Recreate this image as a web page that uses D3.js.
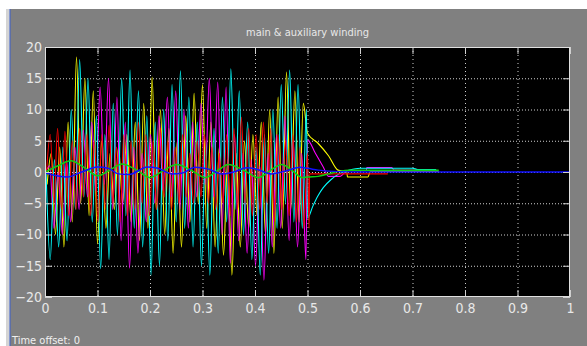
<!DOCTYPE html>
<html>
<head>
<meta charset="utf-8">
<script src="https://cdn.jsdelivr.net/npm/d3@7/dist/d3.min.js"></script>
<style>
  html, body { margin: 0; padding: 0; background: #fff; }
  svg { display: block; }
</style>
</head>
<body>
<div id="scope"></div>
<script>
// axis ticks
const xTicks = [0, 0.1, 0.2, 0.3, 0.4, 0.5, 0.6, 0.7, 0.8, 0.9, 1];
const xTickLabels = ["0", "0.1", "0.2", "0.3", "0.4", "0.5", "0.6", "0.7", "0.8", "0.9", "1"];
const yTicks = [-20, -15, -10, -5, 0, 5, 10, 15, 20];

// fast signals: alternating extremes, one every half cycle
const halfCycle = 0.008;
const redHalfCycle = 0.007;

const yellowStart = 0.004;
const yellowVals = [-2, 3, -10, 4, -12, 8, -8, 18.4, -5, 15, -7, 13, -11.5, 5, -9, 3, -6, 4, -5, 6,
  -8, 8, -11, 11, -9, 15.2, -6, 10, -10, 7, -13, 5, -12, 9, -8, 12.6, -5, 14, -9, 8,
  -12, 4, -13.3, 2, -16.5, 3, -12, 5, -9, 6, -7, 8, -10, 10, -13, 12, -9, 16, -6, 13,
  -8, 11];
const yellowTail = [[0.5, 6.2], [0.52, 4.6], [0.54, 2.6], [0.558, 0.3], [0.575, 0], [0.576, -0.8],
  [0.615, -0.8], [0.62, 0.1], [0.75, 0.1]];

const magentaStart = 0.001;
const magentaVals = [0, 1, -9, 0, -10, 2, -8, 4, -6, 6.7, -4, 8, -3, 13.6, -2, 15, -6, 12, -11, 8,
  -15.4, 4, -13, 3, -8, 6, -5, 9, -3, 12, -4, 13, -6, 10, -9, 8, -4, 11, -2, 15,
  -4, 14.4, -10, 13.6, -14.6, 6, -11, 3, -13, 2, -15, 1, -17.3, 3, -12, 6, -9, 9, -11, 5,
  -12, 3, -14];
const magentaTail = [[0.5, 5.1], [0.515, 3.0], [0.53, 0.8], [0.54, -0.7], [0.562, -0.7], [0.575, 0.2],
  [0.612, 0.2], [0.613, 0.7], [0.66, 0.7], [0.665, 0.3], [0.69, 0.3], [0.745, 0.3]];

const cyanStart = 0.002;
const cyanVals = [0, -14, 2, -12, 4, -11, 10, -6, 18, -4, 15, -8, 9, -15.5, 6, -14, 11, -10, 15, -7,
  16.3, -9, 13, -12, 9, -16.5, 8, -15, 10, -11, 14, -8, 16.2, -9, 12, -12, 8, -15, 5, -16.5,
  7, -13, 12, -8, 16.5, -6, 13, -10, 8, -14, 4, -16.5, 6, -13, 10, -9, 14, -5, 16.3, -8,
  14, -9, 10];
const cyanTail = [[0.5, -7.4], [0.51, -5.5], [0.52, -3.8], [0.53, -2.5], [0.545, -1.2], [0.56, -0.3],
  [0.58, 0.3], [0.6, 0.6], [0.7, 0.6], [0.71, 0.4], [0.745, 0.4]];

const redStart = 0.003;
const redVals = [0, 6, -5, 7, -6, 6.5, -7, 5, -6, 7, -4, 6, -7, 5, -8, 6, -6, 7.5, -5, 4,
  -8, 6, -7, 5, -6, 8, -5, 6, -7, 5, -6, 7, -4, 5, -6, 4, -5, 6, -4, 3,
  -5, 5, -4, 6, -5, 4, -6, 3, -5, 6, -7, 7, -6, 8.8, -5, 7, -7, 6, -6, 8,
  -5, 7, -8, 6, -6, 5, -7, 6, -8, 4, -9, 3];
const redTail = [[0.503, -9], [0.504, -0.3], [0.653, -0.3]];

// slow signals: read point by point
const greenPts = [[0, 0], [0.025, 1], [0.049, 1.8], [0.075, 0.7], [0.1, -0.6], [0.125, 0.4], [0.147, 1.3],
  [0.175, 0.3], [0.2, -0.9], [0.225, 0.2], [0.251, 1.2], [0.28, 0.2], [0.305, -0.9], [0.33, 0.3],
  [0.349, 1.2], [0.38, 0.2], [0.406, -0.9], [0.43, 0.3], [0.451, 1.2], [0.47, 0.3], [0.49, -0.9],
  [0.5, -0.8], [0.52, -0.7], [0.54, -0.3], [0.56, 0.1], [0.58, 0.3], [0.75, 0.3]];
const bluePts = [[0, -0.1], [0.042, -0.8], [0.07, 0], [0.1, 0.8], [0.12, 0.6], [0.14, -0.3], [0.16, -0.4],
  [0.195, 0.8], [0.215, 0.6], [0.241, -0.3], [0.26, -0.2], [0.286, 0.75], [0.31, 0.5], [0.337, -0.3],
  [0.36, 0], [0.384, 0.7], [0.405, 0.4], [0.43, -0.3], [0.46, 0.2], [0.486, 0.75], [0.5, 0.6],
  [0.52, 0.3], [0.55, 0.1], [0.6, 0], [1, 0]];

function withTimes(start, step, vals, tail) {
  return vals.map((v, i) => [start + i * step, v]).concat(tail);
}

const signals = [
  {color: "#ffff00", pts: withTimes(yellowStart, halfCycle, yellowVals, yellowTail)},
  {color: "#ff00ff", pts: withTimes(magentaStart, halfCycle, magentaVals, magentaTail)},
  {color: "#00ffff", pts: withTimes(cyanStart, halfCycle, cyanVals, cyanTail)},
  {color: "#ff0000", pts: withTimes(redStart, redHalfCycle, redVals, redTail)},
  {color: "#10d010", pts: greenPts, smooth: true},
  {color: "#1010ff", pts: bluePts, smooth: true}
];

const FONT = '"DejaVu Sans Condensed", "Liberation Sans Narrow", "Arial Narrow", sans-serif';
const W = 587, H = 346;
const plot = {left: 45, right: 570, top: 47, bottom: 297};

const svg = d3.select("#scope").append("svg")
  .attr("width", W)
  .attr("height", H)
  .attr("font-family", FONT);

// window frame
svg.append("rect").attr("width", W).attr("height", H).attr("fill", "#ffffff");
svg.append("rect").attr("x", 6).attr("y", 9).attr("width", W - 6).attr("height", H - 9).attr("fill", "#d4d4d4");
svg.append("rect").attr("x", 10).attr("y", 9).attr("width", W - 10).attr("height", H - 9).attr("fill", "#808080");
svg.append("line").attr("x1", 10).attr("x2", 10).attr("y1", 9).attr("y2", H)
  .attr("stroke", "#3a5fcd").attr("stroke-width", 1);

const x = d3.scaleLinear().domain([0, 1]).range([plot.left, plot.right]);
const y = d3.scaleLinear().domain([-20, 20]).range([plot.bottom, plot.top]);

svg.append("rect")
  .attr("x", plot.left).attr("y", plot.top)
  .attr("width", plot.right - plot.left).attr("height", plot.bottom - plot.top)
  .attr("fill", "#000000");

// dotted grid
svg.append("g").selectAll("line").data(xTicks.slice(1, -1)).enter().append("line")
  .attr("x1", d => x(d) + 0.5).attr("x2", d => x(d) + 0.5)
  .attr("y1", plot.top).attr("y2", plot.bottom)
  .attr("stroke", "#cfcfcf").attr("stroke-dasharray", "1,3");
svg.append("g").selectAll("line").data(yTicks.slice(1, -1)).enter().append("line")
  .attr("x1", plot.left).attr("x2", plot.right)
  .attr("y1", d => y(d) + 0.5).attr("y2", d => y(d) + 0.5)
  .attr("stroke", "#cfcfcf").attr("stroke-dasharray", "1,2");

// signals
svg.append("clipPath").attr("id", "clip").append("rect")
  .attr("x", plot.left).attr("y", plot.top)
  .attr("width", plot.right - plot.left).attr("height", plot.bottom - plot.top);

const line = d3.line().x(d => x(d[0])).y(d => y(d[1])).curve(d3.curveMonotoneX);

svg.append("g").attr("clip-path", "url(#clip)")
  .selectAll("path").data(signals).enter().append("path")
  .attr("d", d => line(d.pts))
  .attr("fill", "none")
  .attr("stroke", d => d.color)
  .attr("stroke-width", d => d.smooth ? 1.5 : 1.1);

// axes, ticks pointing into the plot
function styleAxis(g) {
  g.attr("font-family", FONT);
  g.select(".domain").remove();
  g.selectAll(".tick line").attr("stroke", "#d0d0d0");
  g.selectAll(".tick text").attr("fill", "#e8e8e8").attr("font-size", 14);
}

svg.append("g")
  .attr("transform", `translate(0,${plot.bottom})`)
  .call(d3.axisBottom(x).tickValues(xTicks).tickFormat((d, i) => xTickLabels[i]).tickSize(-7).tickPadding(6))
  .call(styleAxis);
svg.append("g")
  .attr("transform", `translate(0,${plot.top})`)
  .call(d3.axisTop(x).tickValues(xTicks).tickFormat("").tickSize(-7))
  .call(styleAxis);
svg.append("g")
  .attr("transform", `translate(${plot.left},0)`)
  .call(d3.axisLeft(y).tickValues(yTicks).tickSize(-7).tickPadding(3))
  .call(styleAxis);
svg.append("g")
  .attr("transform", `translate(${plot.right},0)`)
  .call(d3.axisRight(y).tickValues(yTicks).tickFormat("").tickSize(-7))
  .call(styleAxis);

// box
svg.append("rect")
  .attr("x", plot.left + 0.5).attr("y", plot.top + 0.5)
  .attr("width", plot.right - plot.left - 1).attr("height", plot.bottom - plot.top - 1)
  .attr("fill", "none").attr("stroke", "#e0e0e0");

svg.append("text")
  .attr("x", (plot.left + plot.right) / 2).attr("y", 36)
  .attr("text-anchor", "middle")
  .attr("font-size", 11)
  .attr("fill", "#e8e8e8")
  .text("main & auxiliary winding");

svg.append("text")
  .attr("x", 12).attr("y", 344)
  .attr("font-size", 11)
  .attr("fill", "#f0f0f0")
  .text("Time offset:  0");
</script>
</body>
</html>
